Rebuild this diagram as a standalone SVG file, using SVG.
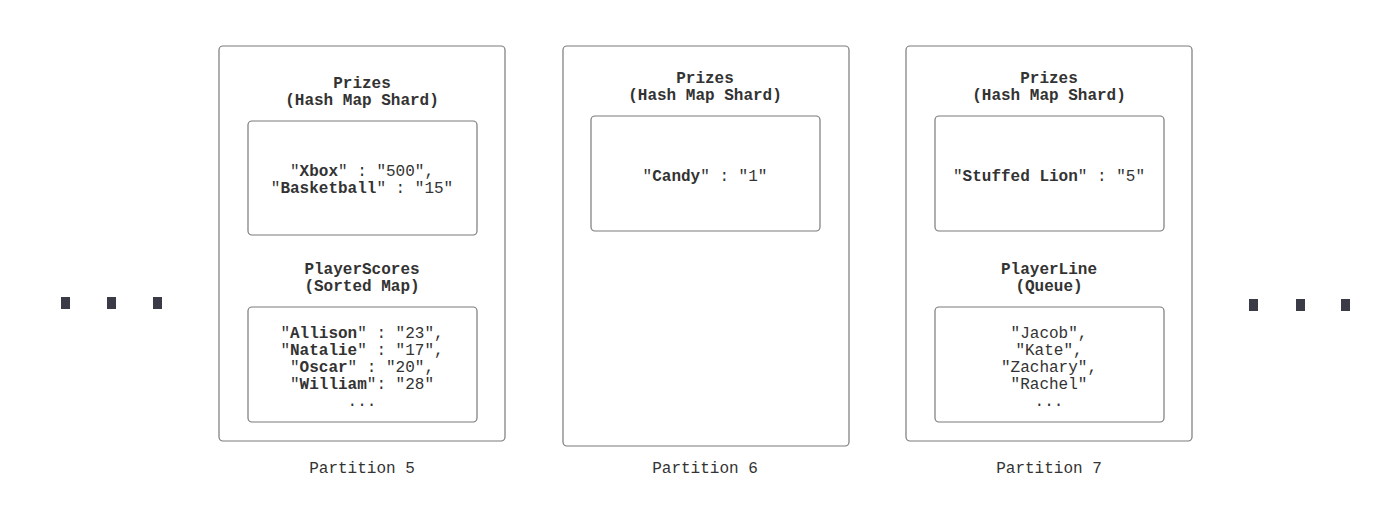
<svg xmlns="http://www.w3.org/2000/svg" width="1400" height="510" viewBox="0 0 1400 510">
<style>
  .outer { fill: #ffffff; stroke: #7a7a7a; stroke-width: 1.2; }
  .inner { fill: #ffffff; stroke: #7a7a7a; stroke-width: 1.2; }
  text { font-family: "Liberation Mono", "DejaVu Sans Mono", monospace; font-size: 16px; fill: #333333; text-anchor: middle; }
  .b { font-weight: bold; }
  .dot { fill: #3a3b47; }
</style>
<rect width="1400" height="510" fill="#ffffff"/>
<g id="connectors"></g>

<g id="dots-left">
  <rect class="dot" x="61" y="297" width="9" height="12"/>
  <rect class="dot" x="107" y="297" width="9" height="12"/>
  <rect class="dot" x="153" y="297" width="9" height="12"/>
</g>
<g id="dots-right">
  <rect class="dot" x="1249" y="299" width="9" height="12"/>
  <rect class="dot" x="1296" y="299" width="9" height="12"/>
  <rect class="dot" x="1341" y="299" width="9" height="12"/>
</g>

<g id="partition5">
  <rect class="outer" x="219" y="46" width="286" height="395" rx="4"/>
  <text class="b" x="362" y="88">Prizes</text>
  <text class="b" x="362" y="105">(Hash Map Shard)</text>
  <g id="p5-prizes">
    <rect class="inner" x="248" y="121" width="229" height="114" rx="4"/>
    <text x="362" y="176">"<tspan class="b">Xbox</tspan>" : "500",</text>
    <text x="362" y="193">"<tspan class="b">Basketball</tspan>" : "15"</text>
  </g>
  <text class="b" x="362" y="274">PlayerScores</text>
  <text class="b" x="362" y="291">(Sorted Map)</text>
  <g id="p5-scores">
    <rect class="inner" x="248" y="307" width="229" height="115" rx="4"/>
    <text x="362" y="338">"<tspan class="b">Allison</tspan>" : "23",</text>
    <text x="362" y="355">"<tspan class="b">Natalie</tspan>" : "17",</text>
    <text x="362" y="372">"<tspan class="b">Oscar</tspan>" : "20",</text>
    <text x="362" y="389">"<tspan class="b">William</tspan>": "28"</text>
    <text x="362" y="406">...</text>
  </g>
  <text x="362" y="473">Partition 5</text>
</g>

<g id="partition6">
  <rect class="outer" x="563" y="46" width="286" height="400" rx="4"/>
  <text class="b" x="705" y="83">Prizes</text>
  <text class="b" x="705" y="100">(Hash Map Shard)</text>
  <g id="p6-prizes">
    <rect class="inner" x="591" y="116" width="229" height="115" rx="4"/>
    <text x="705" y="181">"<tspan class="b">Candy</tspan>" : "1"</text>
  </g>
  <text x="705" y="473">Partition 6</text>
</g>

<g id="partition7">
  <rect class="outer" x="906" y="46" width="286" height="395" rx="4"/>
  <text class="b" x="1049" y="83">Prizes</text>
  <text class="b" x="1049" y="100">(Hash Map Shard)</text>
  <g id="p7-prizes">
    <rect class="inner" x="935" y="116" width="229" height="115" rx="4"/>
    <text x="1049" y="181">"<tspan class="b">Stuffed Lion</tspan>" : "5"</text>
  </g>
  <text class="b" x="1049" y="274">PlayerLine</text>
  <text class="b" x="1049" y="291">(Queue)</text>
  <g id="p7-line">
    <rect class="inner" x="935" y="307" width="229" height="115" rx="4"/>
    <text x="1049" y="338">"Jacob",</text>
    <text x="1049" y="355">"Kate",</text>
    <text x="1049" y="372">"Zachary",</text>
    <text x="1049" y="389">"Rachel"</text>
    <text x="1049" y="406">...</text>
  </g>
  <text x="1049" y="473">Partition 7</text>
</g>
</svg>
